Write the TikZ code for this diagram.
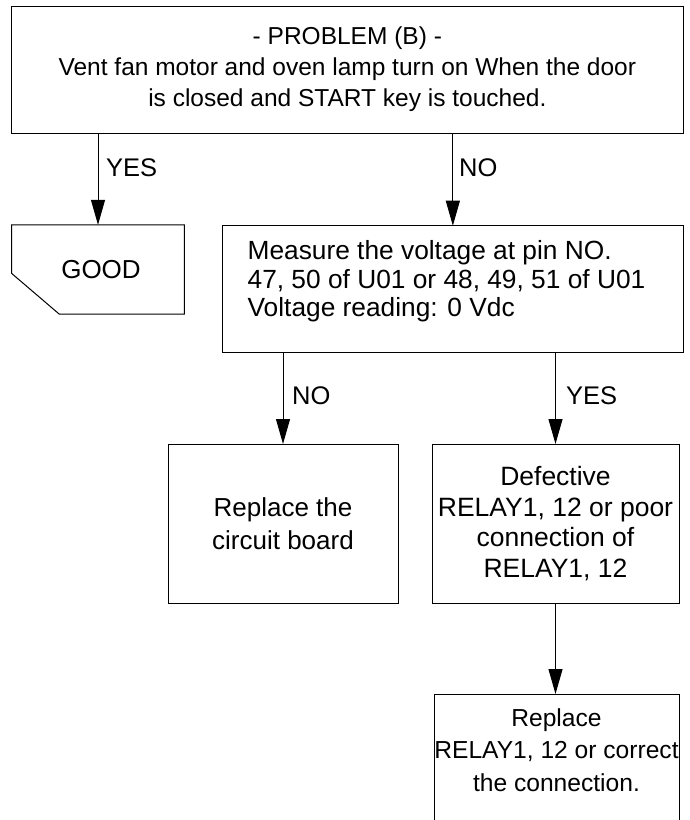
\documentclass[tikz,border=0pt]{standalone}
\usepackage{fontspec}
\setmainfont{Liberation Sans}
\usetikzlibrary{arrows.meta,calc}
\begin{document}
\begin{tikzpicture}[x=1pt,y=-1pt,
  box/.style={draw, line width=1pt, inner sep=0pt, outer sep=0pt},
  plainbox/.style={inner sep=0pt, outer sep=0pt},
  txt/.style={font=\fontsize{24.5}{31}\selectfont, align=center},
  arr/.style={line width=1pt, -{Triangle[length=25pt,width=14pt]}},
  lbl/.style={font=\fontsize{25.5}{28}\selectfont, anchor=west, inner sep=0pt}]
\useasboundingbox (0,0) rectangle (689,820);

% nodes
\node[box, minimum width=671.3pt, minimum height=127pt, txt] (top) at (347.35,69.5)
  {- PROBLEM (B) -\\Vent fan motor and oven lamp turn on When the door\\is closed and START key is touched.};

\node[plainbox, minimum width=172.6pt, minimum height=89.3pt, txt, font=\fontsize{26}{30}\selectfont] (good) at (98,269.5) {\hspace*{6pt}GOOD};
\draw[line width=1pt] (good.north west) -- (good.north east) -- (good.south east)
  -- ($(good.south west)+(47.6,0)$) -- ($(good.north west)+(0,48.6)$) -- cycle;

\node[box, minimum width=460.8pt, minimum height=127pt] (meas) at (452.85,289.2) {};
\node[plainbox, anchor=west, align=left, font=\fontsize{26.3}{28.5}\selectfont] (meastxt) at ($(meas.west)+(25.2,-8)$)
  {Measure the voltage at pin NO.\\47, 50 of U01 or 48, 49, 51 of U01\\Voltage reading: 0 Vdc};

\node[box, minimum width=230pt, minimum height=159pt, txt, font=\fontsize{26}{33}\selectfont] (rep) at (283,523.5)
  {Replace the\\circuit board};

\node[box, minimum width=247pt, minimum height=159pt, txt, font=\fontsize{26.5}{30.5}\selectfont] (def) at (555.5,523.5)
  {Defective\\RELAY1, 12 or poor\\connection of\\RELAY1, 12};

\node[plainbox, minimum width=245pt, minimum height=130pt] (r2) at (556.5,759) {};
\draw[line width=1pt] (r2.south west) -- (r2.north west) -- (r2.north east) -- (r2.south east);
\node[plainbox, align=center, font=\fontsize{24.6}{32.5}\selectfont] (r2txt) at ($(r2.north)+(0,56)$)
  {Replace\\RELAY1, 12 or correct\\the connection.};

% connectors
\draw[arr] (top.south -| good.north) -- (good.north);
\draw[arr] (top.south -| meas.north) -- (meas.north);
\draw[arr] (meas.south -| rep.north) -- (rep.north);
\draw[arr] (meas.south -| def.north) -- (def.north);
\draw[arr] (def.south) -- (def.south |- r2.north);

% labels
\node[lbl] (yes1) at (106,168) {YES};
\node[lbl] (no1) at (459,168) {NO};
\node[lbl] (no2) at (292,396) {NO};
\node[lbl] (yes2) at (566,396) {YES};
\end{tikzpicture}
\end{document}
